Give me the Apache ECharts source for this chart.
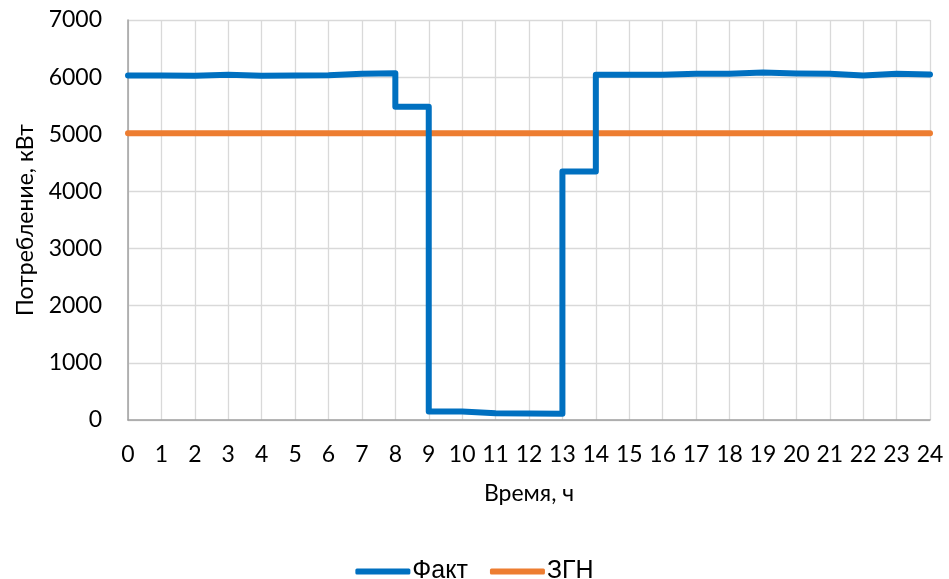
<!DOCTYPE html>
<html>
<head>
<meta charset="utf-8">
<script src="https://cdn.jsdelivr.net/npm/echarts@6/dist/echarts.min.js"></script>
<style>
  html, body { margin: 0; padding: 0; background: #fff; }
  #chart { width: 949px; height: 579px; }
</style>
</head>
<body>
<div id="chart"></div>
<script>
// Hour boundaries 0..24 and hourly consumption (kW), value held over each hour
const hours = [0,1,2,3,4,5,6,7,8,9,10,11,12,13,14,15,16,17,18,19,20,21,22,23,24];
const factValues = [6030,6025,6040,6025,6030,6035,6060,6070,5480,150,120,115,110,4350,
                    6040,6040,6058,6058,6080,6064,6058,6030,6058,6046];
const zgnValue = 5020;
const yTicks = [0,1000,2000,3000,4000,5000,6000,7000];
const seriesNames = ['Факт', 'ЗГН'];

// The last hour's value is held until the 24:00 boundary
const factData = hours.map((h, i) => [h, factValues[Math.min(i, factValues.length - 1)]]);
const zgnData = [[hours[0], zgnValue], [hours[hours.length - 1], zgnValue]];

const font = 'Lato, "Liberation Sans", sans-serif';
const chart = echarts.init(document.getElementById('chart'), null, { renderer: 'canvas' });
chart.setOption({
  animation: false,
  backgroundColor: '#ffffff',
  grid: { left: 128, right: 19, top: 20, bottom: 159, containLabel: false },
  xAxis: {
    type: 'value',
    min: 0, max: 24, interval: 1,
    name: 'Время, ч',
    nameLocation: 'middle',
    nameGap: 62,
    nameTextStyle: { fontFamily: font, fontSize: 23, color: '#000' },
    axisLine: { show: true, lineStyle: { color: '#a0a0a0', width: 1.5 } },
    axisTick: { show: false },
    axisLabel: { fontFamily: font, fontSize: 23, color: '#000', margin: 23 },
    splitLine: { show: true, lineStyle: { color: '#d9d9d9', width: 1.3 } }
  },
  yAxis: {
    type: 'value',
    min: yTicks[0], max: yTicks[yTicks.length - 1], interval: 1000,
    name: 'Потребление, кВт',
    nameLocation: 'middle',
    nameGap: 91,
    nameRotate: 90,
    nameTextStyle: { fontFamily: font, fontSize: 23, color: '#000' },
    axisLine: { show: true, lineStyle: { color: '#a0a0a0', width: 1.5 } },
    axisTick: { show: false },
    axisLabel: { fontFamily: font, fontSize: 23, color: '#000', margin: 26, formatter: v => String(v) },
    splitLine: { show: true, lineStyle: { color: '#d9d9d9', width: 1.3 } }
  },
  legend: {
    top: 554,
    left: 'center',
    itemWidth: 55,
    itemHeight: 6,
    itemGap: 22,
    textStyle: { fontFamily: '"Liberation Sans", Arial, sans-serif', fontSize: 25, color: '#000', padding: [0, 0, 0, -3] },
    data: [
      { name: seriesNames[0], icon: 'roundRect' },
      { name: seriesNames[1], icon: 'roundRect' }
    ]
  },
  series: [
    {
      name: seriesNames[1],
      type: 'line',
      data: zgnData,
      showSymbol: false,
      symbol: 'none',
      lineStyle: { color: '#ED7D31', width: 6, cap: 'round' },
      itemStyle: { color: '#ED7D31' },
      z: 2
    },
    {
      name: seriesNames[0],
      type: 'line',
      step: 'end',
      data: factData,
      showSymbol: false,
      symbol: 'none',
      lineStyle: { color: '#0070C0', width: 6, join: 'round', cap: 'round' },
      itemStyle: { color: '#0070C0' },
      z: 3
    }
  ]
});
</script>
</body>
</html>
